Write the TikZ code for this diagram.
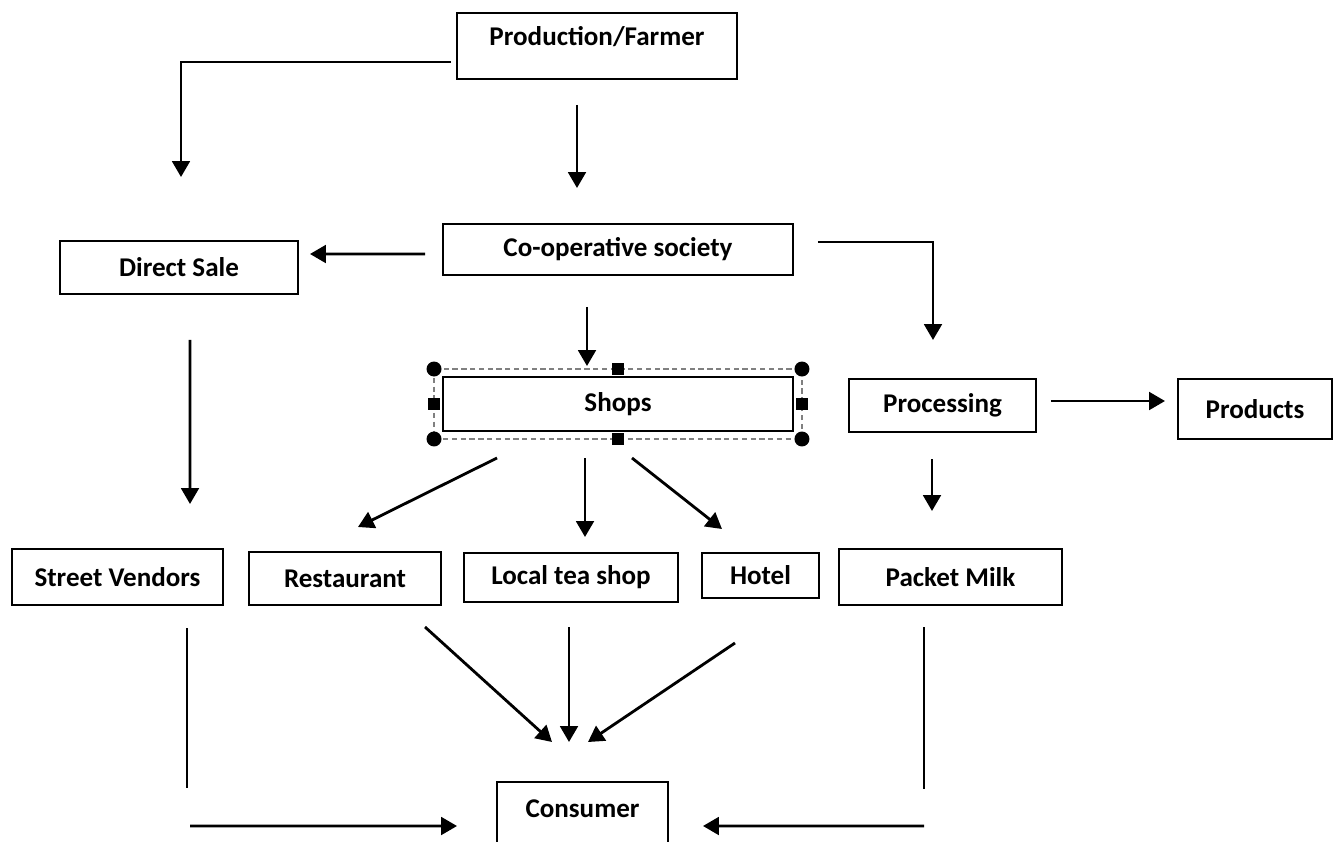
\documentclass[tikz,border=0pt]{standalone}
\usepackage{fontspec}
\setmainfont{Carlito}
\usetikzlibrary{positioning,arrows.meta}

\begin{document}
\begin{tikzpicture}[%
	x=0.02cm, y=-0.02cm,
	->, >={Triangle[length=9pt,width=10pt]},
	line width=1.6pt,
	blk/.style={draw, rectangle, inner sep=0pt, outer sep=0pt, align=center,
		font=\bfseries\fontsize{15.4}{18}\selectfont},
	selbox/.style={draw=gray, densely dashed, line width=0.7pt},
	handle/.style={fill=black}
	]
	\useasboundingbox (0,0) rectangle (1333,842);

	% boxes
	\node[blk, anchor=base, minimum width=5.6cm, text height=0.64cm, text depth=0.68cm] (farmer) at (597,45) {Production/Farmer};
	\node[blk, minimum width=4.76cm, minimum height=1.06cm] (dsale) at (179,267.5) {Direct Sale};
	\node[blk, minimum width=7cm, minimum height=1.02cm] (coop) at (618,249.5) {Co-operative society};
	\node[blk, minimum width=7cm, minimum height=1.08cm] (shops) at (618,404) {Shops};
	\node[blk, minimum width=3.74cm, minimum height=1.06cm] (proc) at (942.5,405.5) {Processing};
	\node[blk, minimum width=3.08cm, minimum height=1.2cm] (prod) at (1255,409) {Products};
	\node[blk, minimum width=4.22cm, minimum height=1.12cm] (street) at (117.5,577) {Street Vendors};
	\node[blk, minimum width=3.84cm, minimum height=1.06cm] (rest) at (345,578.5) {Restaurant};
	\node[blk, minimum width=4.28cm, minimum height=0.98cm] (tea) at (571,577.5) {Local tea shop};
	\node[blk, minimum width=2.34cm, minimum height=0.9cm] (hotel) at (760.5,575.5) {Hotel};
	\node[blk, minimum width=4.46cm, minimum height=1.12cm] (milk) at (950.5,577) {Packet Milk};
	\node[blk, anchor=base, minimum width=3.42cm, text height=0.7cm, text depth=0.86cm] (cons) at (582.5,817) {Consumer};

	% selection handles round the shops box
	\draw[selbox, -] ([shift={(-9,-8)}]shops.north west) rectangle ([shift={(9,8)}]shops.south east);
	\foreach \a/\dx/\dy in {north west/-9/-8, north east/9/-8, south west/-9/8, south east/9/8}
		\fill[handle] ([shift={(\dx,\dy)}]shops.\a) circle (0.15cm);
	\foreach \a/\dx/\dy in {north/0/-8, south/0/8, west/-9/0, east/9/0}
		\fill[handle] ([shift={(\dx,\dy)}]shops.\a) +(-6,-6) rectangle +(6,6);

	% connectors
	\draw ([shift={(-6,16)}]farmer.west) -| ([shift={(2,-64)}]dsale.north);
	\draw ([shift={(25,-7.5)}]coop.east) -| ([shift={(-9.5,-39)}]proc.north);

	\path ([shift={(-20,26)}]farmer.south) edge ([shift={(-41,-36)}]coop.north)
	([shift={(-18,4.5)}]coop.west) edge ([shift={(12,-13.5)}]dsale.east)
	([shift={(-31,32)}]coop.south) edge ([shift={(-31,-11)}]shops.north)
	([shift={(11,46)}]dsale.south) edge ([shift={(72.5,-45)}]street.north)
	([shift={(-121,27)}]shops.south) edge ([shift={(13,-25)}]rest.north)
	([shift={(-33,27)}]shops.south) edge ([shift={(14,-16)}]tea.north)
	([shift={(14,27)}]shops.south) edge ([shift={(-38.5,-24)}]hotel.north)
	([shift={(15,-4.5)}]proc.east) edge ([shift={(-13,-8)}]prod.west)
	([shift={(-10.5,27)}]proc.south) edge ([shift={(-18.5,-38)}]milk.north)
	([shift={(80,22)}]rest.south) edge ([shift={(-30.5,-40)}]cons.north)
	([shift={(-2,25)}]tea.south) edge ([shift={(-13.5,-40)}]cons.north)
	([shift={(-25.5,45)}]hotel.south) edge ([shift={(5.5,-40)}]cons.north)
	;

	% street vendors and packet milk down to consumer
	\draw[-] ([shift={(69.5,23)}]street.south) -- ([shift={(69.5,183)}]street.south);
	\draw ([shift={(72.5,221)}]street.south) -- ([shift={(-40,5)}]cons.west);
	\draw[-] ([shift={(-26.5,22)}]milk.south) -- ([shift={(-26.5,184)}]milk.south);
	\draw ([shift={(-26.5,221)}]milk.south) -- ([shift={(35,5)}]cons.east);
\end{tikzpicture}
\end{document}
